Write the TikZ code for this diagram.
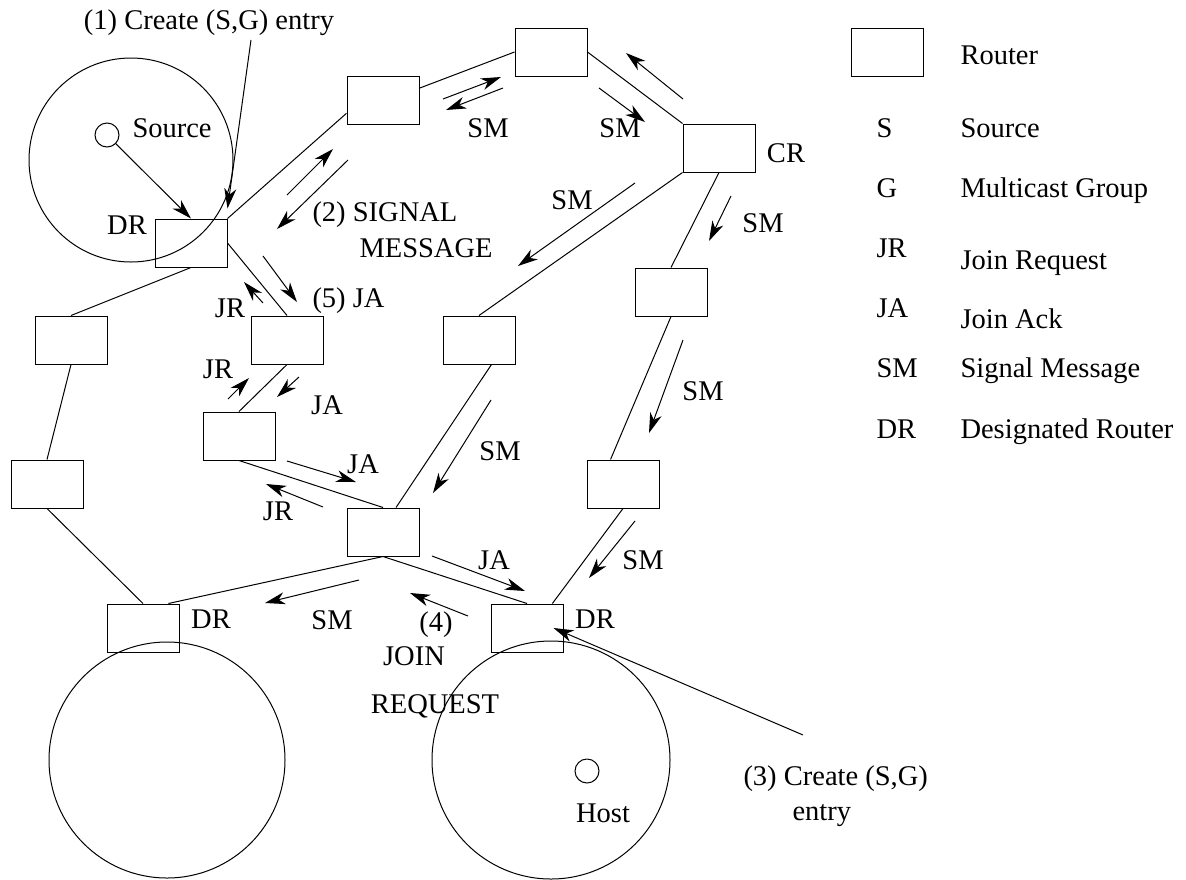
\documentclass[tikz,border=0pt]{standalone}
\usepackage{fontspec}
\setmainfont{Liberation Serif}
\usetikzlibrary{arrows.meta}

\begin{document}
\begin{tikzpicture}[
  x=1pt, y=-1pt,
  font=\fontsize{28.5}{34}\selectfont,
  line width=1pt,
  router/.style={draw, minimum width=72pt, minimum height=48pt, inner sep=0pt},
  region/.style={draw, circle, inner sep=0pt},
  arrow/.style={-{Stealth[length=20pt, width=12pt, inset=6pt]}},
  lbl/.style={anchor=base, inner sep=0pt},
  lblw/.style={anchor=base west, inner sep=0pt}
]
\useasboundingbox (0,0) rectangle (1186,879);

% networks and end hosts
\node[region, minimum size=204pt] (srcnet) at (131,160) {};
\node[region, minimum size=24pt] (srcpt) at (107,135) {};
\node[region, minimum size=236pt] (leftnet) at (167,760) {};
\node[region, minimum size=238pt] (hostnet) at (551,760) {};
\node[region, minimum size=24pt] (hostpt) at (587,771) {};

% routers
\node[router] (dr) at (191,243) {};
\node[router] (ta) at (383,100) {};
\node[router] (tb) at (551,52) {};
\node[router] (cr) at (719,148) {};
\node[router] (la) at (71,340) {};
\node[router] (ja) at (287,340) {};
\node[router] (ma) at (479,340) {};
\node[router] (ra) at (671,292) {};
\node[router] (mb) at (239,436) {};
\node[router] (lb) at (47,484) {};
\node[router] (rb) at (623,484) {};
\node[router] (hub) at (383,532) {};
\node[router] (drl) at (143,628) {};
\node[router] (drh) at (527,628) {};

% links
\draw (dr.north east) -- (ta.200);
\draw (ta.18) -- (tb.west);
\draw (tb.east) -- (cr.north west);
\draw (cr.south west) -- (ma.north);
\draw (cr.south) -- (ra.north);
\draw (ra.south) -- (rb.117);
\draw (rb.south) -- (drh.44);
\draw (ma.297) -- (hub.62);
\draw (mb.south) -- (hub.north);
\draw (ja.south) -- (mb.north);
\draw (dr.east) -- (ja.north);
\draw (dr.south) -- (la.north);
\draw (la.south) -- (lb.north);
\draw (lb.south) -- (drl.north);
\draw (hub.south) -- (drl.44);
\draw (hub.south) -- (drh.north);

% texts on the networks
\node[lblw] (srclbl) at (132,137) {Source};
\node[lbl] (drlbl) at (127,234) {DR};
\node[lbl] (crlbl) at (786,162) {CR};
\node[lbl] (drllbl) at (211,628) {DR};
\node[lbl] (drhlbl) at (595,628) {DR};
\node[lbl] (hostlbl) at (603,822) {Host};

% (1) and (3): create entry
\node[lbl] (step1) at (209,29) {(1) Create (S,G) entry};
\coordinate (step1e) at (251,40);
\draw[arrow] (step1e) -- ([yshift=10pt]dr.north east);
\draw[arrow] (srcpt) -- (dr.north);
\node[lblw] (step3a) at (743,785) {(3) Create (S,G)};
\node[lblw] (step3b) at (792,820) {entry};
\coordinate (step3e) at (803,735);
\draw[arrow] (step3e) -- ([xshift=-10pt]drh.east);

% signal messages
\coordinate (sm1a) at (287,195); \coordinate (sm1b) at (333,149);
\coordinate (sm2a) at (348,160); \coordinate (sm2b) at (277,229);
\coordinate (sm3a) at (443,99);  \coordinate (sm3b) at (501,77);
\coordinate (sm4a) at (503,88);  \coordinate (sm4b) at (446,110);
\coordinate (sm5a) at (599,88);  \coordinate (sm5b) at (645,122);
\coordinate (sm6a) at (683,99);  \coordinate (sm6b) at (626,53);
\coordinate (sm7a) at (635,183); \coordinate (sm7b) at (518,266);
\coordinate (sm8a) at (731,196); \coordinate (sm8b) at (709,241);
\coordinate (sm9a) at (683,340); \coordinate (sm9b) at (649,433);
\coordinate (sm10a) at (491,400); \coordinate (sm10b) at (433,493);
\coordinate (sm11a) at (635,521); \coordinate (sm11b) at (589,578);
\coordinate (sm12a) at (359,580); \coordinate (sm12b) at (265,603);
\draw[arrow] (sm1a) -- (sm1b);
\draw[arrow] (sm2a) -- (sm2b);
\draw[arrow] (sm3a) -- (sm3b);
\draw[arrow] (sm4a) -- (sm4b);
\draw[arrow] (sm5a) -- (sm5b);
\draw[arrow] (sm6a) -- (sm6b);
\draw[arrow] (sm7a) -- (sm7b);
\draw[arrow] (sm8a) -- (sm8b);
\draw[arrow] (sm9a) -- (sm9b);
\draw[arrow] (sm10a) -- (sm10b);
\draw[arrow] (sm11a) -- (sm11b);
\draw[arrow] (sm12a) -- (sm12b);
\node[lblw] (step2a) at (312,221) {(2) SIGNAL};
\node[lblw] (step2b) at (359,257) {MESSAGE};
\node[lbl] (sm4lbl) at (488,137) {SM};
\node[lbl] (sm5lbl) at (620,137) {SM};
\node[lbl] (sm7lbl) at (572,209) {SM};
\node[lbl] (sm8lbl) at (763,232) {SM};
\node[lbl] (sm9lbl) at (703,400) {SM};
\node[lbl] (sm10lbl) at (500,460) {SM};
\node[lbl] (sm11lbl) at (643,569) {SM};
\node[lbl] (sm12lbl) at (332,629) {SM};

% join requests and acks
\coordinate (jm1a) at (263,256); \coordinate (jm1b) at (297,302);
\coordinate (jm2a) at (263,303); \coordinate (jm2b) at (244,282);
\coordinate (jm3a) at (228,399); \coordinate (jm3b) at (249,378);
\coordinate (jm4a) at (299,377); \coordinate (jm4b) at (277,397);
\coordinate (jm5a) at (287,461); \coordinate (jm5b) at (356,482);
\coordinate (jm6a) at (323,507); \coordinate (jm6b) at (266,484);
\coordinate (jm7a) at (432,556); \coordinate (jm7b) at (525,591);
\coordinate (jm8a) at (468,616); \coordinate (jm8b) at (410,593);
\draw[arrow] (jm1a) -- (jm1b);
\draw[arrow] (jm2a) -- (jm2b);
\draw[arrow] (jm3a) -- (jm3b);
\draw[arrow] (jm4a) -- (jm4b);
\draw[arrow] (jm5a) -- (jm5b);
\draw[arrow] (jm6a) -- (jm6b);
\draw[arrow] (jm7a) -- (jm7b);
\draw[arrow] (jm8a) -- (jm8b);
\node[lblw] (step5) at (312,307) {(5) JA};
\node[lbl] (jm2lbl) at (230,317) {JR};
\node[lbl] (jm3lbl) at (218,378) {JR};
\node[lbl] (jm4lbl) at (327,414) {JA};
\node[lbl] (jm5lbl) at (363,473) {JA};
\node[lbl] (jm6lbl) at (278,520) {JR};
\node[lbl] (jm7lbl) at (494,569) {JA};
\node[lbl] (step4a) at (436,631) {(4)};
\node[lbl] (step4b) at (414,665) {JOIN};
\node[lbl] (step4c) at (435,713) {REQUEST};

% legend
\node[router] (lgbox) at (887.5,52) {};
\node[lblw] (lgrouter) at (960,64) {Router};
\node[lblw] (lgs) at (876,137) {S};
\node[lblw] (lgstxt) at (960,137) {Source};
\node[lblw] (lgg) at (876,197) {G};
\node[lblw] (lggtxt) at (960,197) {Multicast Group};
\node[lblw] (lgjr) at (876,257) {JR};
\node[lblw] (lgjrtxt) at (960,269) {Join Request};
\node[lblw] (lgja) at (876,317) {JA};
\node[lblw] (lgjatxt) at (960,328) {Join Ack};
\node[lblw] (lgsm) at (876,377) {SM};
\node[lblw] (lgsmtxt) at (960,377) {Signal Message};
\node[lblw] (lgdr) at (876,438) {DR};
\node[lblw] (lgdrtxt) at (960,438) {Designated Router};
\end{tikzpicture}
\end{document}
